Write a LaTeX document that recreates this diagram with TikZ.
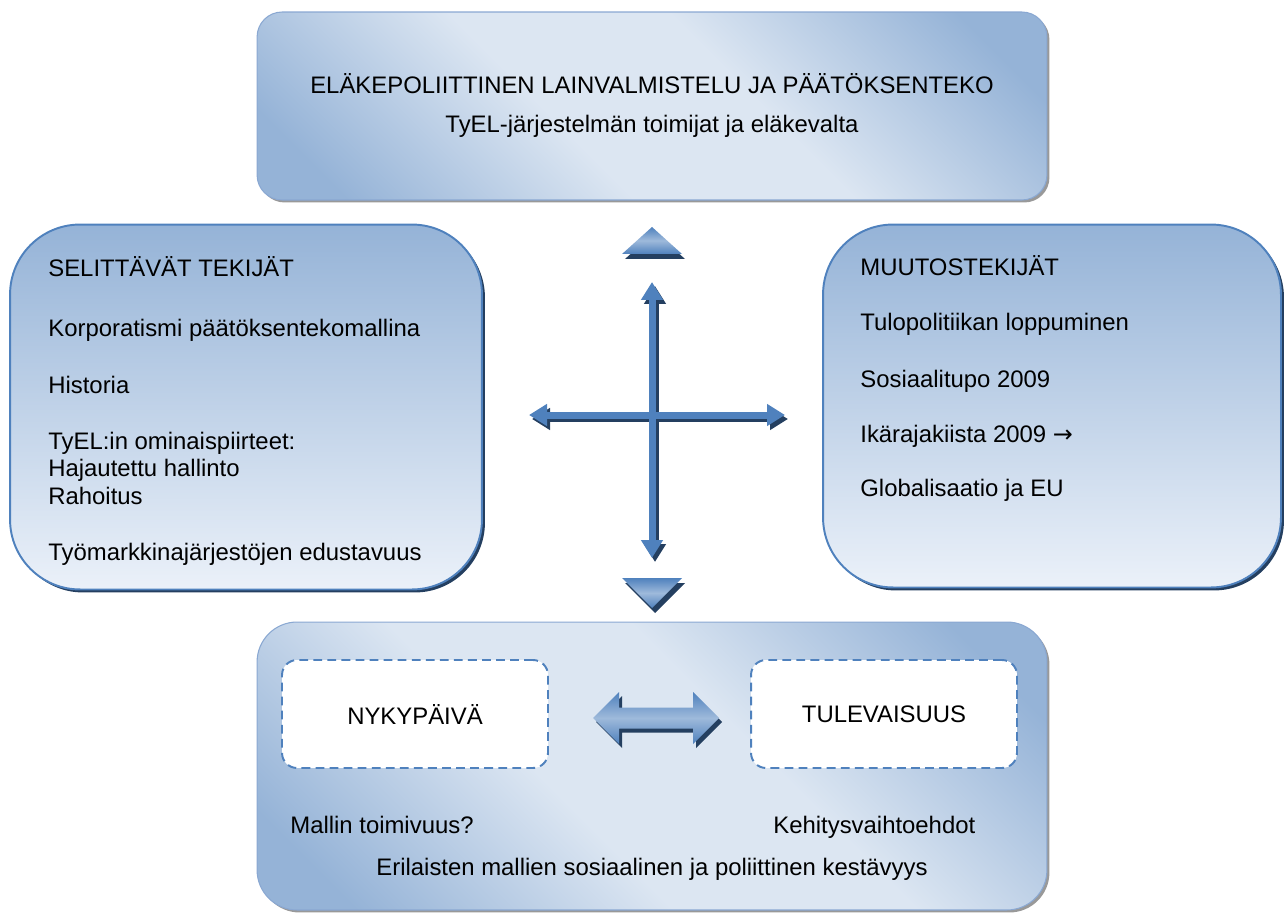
\documentclass[tikz,border=0pt]{standalone}
\usepackage{fontspec}
\setmainfont{Liberation Sans}
\newfontfamily\arrowsym{DejaVu Sans}
\usetikzlibrary{arrows.meta, positioning, shadows}
\definecolor{boxDark}{HTML}{95B3D7}
\definecolor{boxLight}{HTML}{DCE6F2}
\definecolor{boxPale}{HTML}{EBF1F9}
\definecolor{boxEdge}{HTML}{8AA8D2}
\definecolor{arrowBlue}{HTML}{4F81BD}
\definecolor{arrowShadow}{HTML}{243F60}
\pgfdeclareverticalshading{mainshade}{100bp}{color(0bp)=(boxDark); color(21bp)=(boxDark);
  color(42bp)=(boxLight); color(58bp)=(boxLight); color(79bp)=(boxDark); color(100bp)=(boxDark)}
\pgfdeclareverticalshading{sideshade}{100bp}{color(0bp)=(boxPale); color(25bp)=(boxPale);
  color(60bp)=(boxDark!70!boxPale); color(75bp)=(boxDark); color(100bp)=(boxDark)}

\begin{document}
\begin{tikzpicture}[x=0.02cm, y=-0.02cm, font=\fontsize{13.6}{16.3}\selectfont,
  mainbox/.style={rectangle, rounded corners=0.5cm, draw=boxEdge, line width=0.6pt, inner sep=0pt,
    shading=mainshade, shading angle=-45,
    drop shadow={shadow xshift=0.05cm, shadow yshift=-0.05cm, fill=black!40, opacity=1}},
  sidebox/.style={rectangle, rounded corners=1.4cm, draw=arrowBlue, line width=1.1pt, inner sep=0pt,
    shading=sideshade,
    drop shadow={shadow xshift=0.06cm, shadow yshift=-0.06cm, fill=arrowShadow, opacity=1}},
  timebox/.style={rectangle, rounded corners=0.3cm, draw=arrowBlue, fill=white, line width=1.1pt,
    dash pattern=on 5pt off 3pt, minimum width=5.32cm, minimum height=2.16cm},
  itemtext/.style={anchor=base west, inner sep=0pt},
  midtext/.style={anchor=base, inner sep=0pt},
  cross/.style={line width=0.14cm, color=arrowBlue,
    {Triangle[width=0.42cm,length=0.36cm]}-{Triangle[width=0.42cm,length=0.36cm]}},
  crossshade/.style={cross, color=arrowShadow, transform canvas={xshift=0.06cm, yshift=-0.08cm}},
  pointer/.style={top color=arrowBlue, bottom color=arrowBlue, middle color=arrowBlue!55!white}
]
\useasboundingbox (0,0) rectangle (1284,915);

\node[mainbox, minimum width=15.8cm, minimum height=3.76cm] (policy) at (652,106) {};
\node[sidebox, minimum width=9.44cm, minimum height=7.3cm] (explain) at (246,407) {};
\node[sidebox, minimum width=9.16cm, minimum height=7.26cm] (change) at (1052,406) {};
\node[mainbox, rounded corners=0.8cm, minimum width=15.8cm, minimum height=5.76cm] (outlook) at (652,766) {};

\node[midtext] (policyHead) at (652,94)  {ELÄKEPOLIITTINEN LAINVALMISTELU JA PÄÄTÖKSENTEKO};
\node[midtext] (policySub)  at (652,133) {TyEL-järjestelmän toimijat ja eläkevalta};

\node[itemtext] (explainHead) at (48,277) {SELITTÄVÄT TEKIJÄT};
\node[itemtext] (explainKorp) at (48,337) {Korporatismi päätöksentekomallina};
\node[itemtext] (explainHist) at (48,393) {Historia};
\node[itemtext] (explainTyel) at (48,449) {TyEL:in ominaispiirteet:};
\node[itemtext] (explainHaj)  at (48,476) {Hajautettu hallinto};
\node[itemtext] (explainRah)  at (48,504) {Rahoitus};
\node[itemtext] (explainTyo)  at (48,560) {Työmarkkinajärjestöjen edustavuus};

\node[itemtext] (changeHead) at (860,276) {MUUTOSTEKIJÄT};
\node[itemtext] (changeTulo) at (860,331) {Tulopolitiikan loppuminen};
\node[itemtext] (changeSos)  at (860,387) {Sosiaalitupo 2009};
\node[itemtext] (changeIka)  at (860,442) {Ikärajakiista 2009 {\arrowsym →}};
\node[itemtext] (changeGlob) at (860,496) {Globalisaatio ja EU};

\node[timebox] (today)  at (415,714) {NYKYPÄIVÄ};
\node[timebox] (future) at (884,714) {TULEVAISUUS};
\node[itemtext] (todayNote)  at (290,833) {Mallin toimivuus?};
\node[itemtext] (futureNote) at (773,833) {Kehitysvaihtoehdot};
\node[midtext] (outlookNote) at (652,875) {Erilaisten mallien sosiaalinen ja poliittinen kestävyys};

\coordinate (crossTop)   at (652,282);
\coordinate (crossBot)   at (652,558);
\coordinate (crossLeft)  at (529,415);
\coordinate (crossRight) at (785,415);
\draw[crossshade] (crossTop) -- (crossBot);
\draw[crossshade] (crossLeft) -- (crossRight);
\draw[cross] (crossLeft) -- (crossRight);
\draw[cross] (crossTop) -- (crossBot);

\fill[arrowShadow, shift={(3,5)}] (622,254) -- (652,227) -- (682,254) -- cycle;
\shade[pointer] (622,254) -- (652,227) -- (682,254) -- cycle;
\fill[arrowShadow, shift={(3,5)}] (622,578) -- (682,578) -- (652,608) -- cycle;
\shade[pointer] (622,578) -- (682,578) -- (652,608) -- cycle;

\coordinate (swap) at (656,718);
\fill[arrowShadow, shift={(swap)}, shift={(3,4)}] (-63,0) -- (-37,-26) -- (-37,-10.5) -- (37,-10.5) -- (37,-26)
  -- (63,0) -- (37,26) -- (37,10.5) -- (-37,10.5) -- (-37,26) -- cycle;
\shade[pointer, shift={(swap)}] (-63,0) -- (-37,-26) -- (-37,-10.5) -- (37,-10.5) -- (37,-26)
  -- (63,0) -- (37,26) -- (37,10.5) -- (-37,10.5) -- (-37,26) -- cycle;
\end{tikzpicture}
\end{document}
